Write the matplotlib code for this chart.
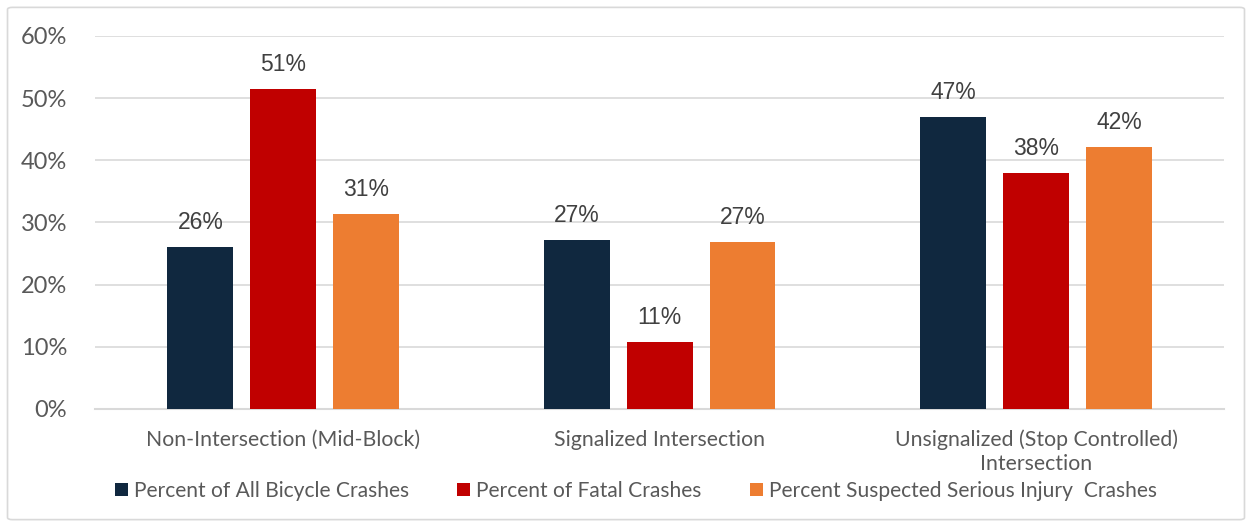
import matplotlib.pyplot as plt
import numpy as np
from matplotlib.patches import FancyBboxPatch

# Data
categories = ["Non-Intersection (Mid-Block)", "Signalized Intersection",
              "Unsignalized (Stop Controlled)\nIntersection"]
series_names = ["Percent of All Bicycle Crashes", "Percent of Fatal Crashes",
                "Percent Suspected Serious Injury  Crashes"]
all_crashes = [26.0, 27.2, 46.9]
fatal_crashes = [51.4, 10.8, 37.9]
serious_injury = [31.3, 26.8, 42.1]
colors = ["#10283F", "#C00000", "#ED7D31"]

fig = plt.figure(figsize=(12.52, 5.27), dpi=100)
ax = fig.add_axes([0.0759, 0.224, 0.902, 0.708])

# Light frame around the whole chart
fig.patches.append(FancyBboxPatch((0.006, 0.014), 0.988, 0.972,
                                  boxstyle="round,pad=0,rounding_size=0.004",
                                  transform=fig.transFigure, fill=False,
                                  edgecolor="#D9D9D9", linewidth=1.2))

x = np.arange(len(categories))
width = 0.175
offsets = [-0.22, 0, 0.22]
for vals, off, col, name in zip([all_crashes, fatal_crashes, serious_injury],
                                offsets, colors, series_names):
    bars = ax.bar(x + off, vals, width, color=col, label=name, zorder=3)
    for b, v in zip(bars, vals):
        ax.text(b.get_x() + b.get_width() / 2, v + 2.1, f"{round(v):d}%",
                ha="center", va="bottom", fontsize=16.5, color="#404040",
                family="Liberation Sans")

ax.set_xlim(-0.5, 2.5)
ax.set_ylim(0, 60)
ax.set_yticks(range(0, 61, 10))
ax.set_yticklabels([f"{t}%" for t in range(0, 61, 10)], family="Lato",
                   fontsize=17, color="#595959")
ax.set_xticks(x)
ax.set_xticklabels(categories, family="Lato", fontsize=15.3, color="#595959",
                   linespacing=1.2)
ax.tick_params(axis="both", length=0)
ax.tick_params(axis="x", pad=15)
ax.tick_params(axis="y", pad=20)
ax.grid(axis="y", color="#D9D9D9", linewidth=1.2, zorder=0)
for s in ["top", "right", "left"]:
    ax.spines[s].set_visible(False)
ax.spines["bottom"].set_color("#D9D9D9")
ax.spines["bottom"].set_linewidth(1.5)

fig.legend(loc="center", bbox_to_anchor=(0.508, 0.068), ncol=3, frameon=False,
           prop={"family": "Lato", "size": 15.1}, labelcolor="#595959",
           handlelength=0.6, handleheight=0.6, handletextpad=0.3,
           columnspacing=2.3)

fig.savefig("out.png", dpi=100)
